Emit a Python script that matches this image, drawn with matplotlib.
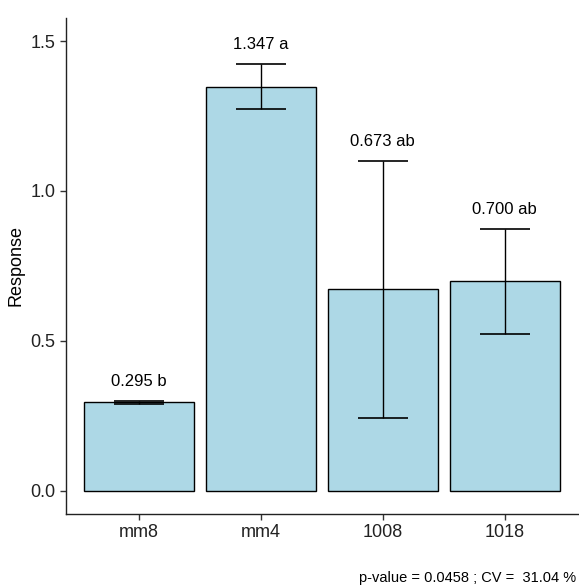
import matplotlib
matplotlib.use("Agg")
import matplotlib.pyplot as plt
import numpy as np

plt.rcParams['font.family'] = ['Liberation Sans', 'DejaVu Sans']

categories = ["mm8", "mm4", "1008", "1018"]
means = [0.295, 1.347, 0.673, 0.700]
err_low = [0.291, 1.273, 0.242, 0.524]
err_high = [0.299, 1.425, 1.100, 0.874]
labels = ["0.295 b", "1.347 a", "0.673 ab", "0.700 ab"]
yticks = [0.0, 0.5, 1.0, 1.5]
caption = "p-value = 0.0458 ; CV =  31.04 %"

fig = plt.figure(figsize=(5.79, 5.87), dpi=100)
ax = fig.add_axes([0.114, 0.1244, 0.884, 0.845])

x = np.arange(len(categories))
ax.bar(x, means, width=0.9, color="#ADD8E6", edgecolor="black", linewidth=1.0, zorder=2)
lo = np.array(means) - np.array(err_low)
hi = np.array(err_high) - np.array(means)
ax.errorbar(x, means, yerr=[lo, hi], fmt="none", ecolor="black", elinewidth=1.0,
            capsize=18, capthick=1.2, zorder=3)
for xi, yh, lab in zip(x, err_high, labels):
    ax.text(xi, yh + 0.065, lab, ha="center", va="center", fontsize=12, color="black")

ax.set_xlim(-0.6, 3.6)
ax.set_ylim(-0.077, 1.577)
ax.set_xticks(x)
ax.set_xticklabels(categories)
ax.set_yticks(yticks)
ax.set_yticklabels([f"{v:.1f}" for v in yticks])
ax.tick_params(axis="both", labelsize=13, colors="#333333", length=4, width=1, labelcolor="#222222")
for s in ["top", "right"]:
    ax.spines[s].set_visible(False)
for s in ["left", "bottom"]:
    ax.spines[s].set_color("#222222")
    ax.spines[s].set_linewidth(1.0)
ax.set_ylabel("Response", fontsize=13, color="black", labelpad=4)

fig.text(0.995, 0.003, caption, ha="right", va="bottom", fontsize=10.5, color="black")

fig.savefig("out.png", dpi=100)
